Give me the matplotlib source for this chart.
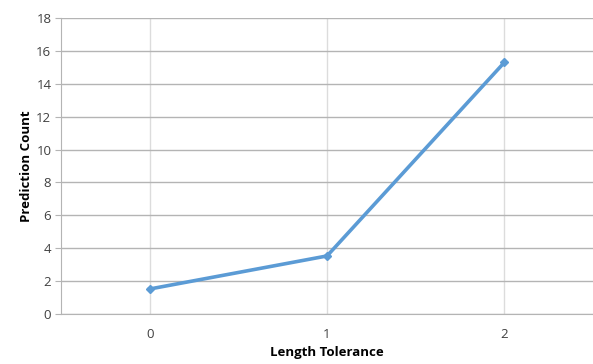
import matplotlib.pyplot as plt

# Prediction count per length tolerance
tolerance = ["0", "1", "2"]
prediction_count = [1.52, 3.53, 15.3]
y_ticks = [0, 2, 4, 6, 8, 10, 12, 14, 16, 18]

plt.rcParams['font.family'] = ['Open Sans', 'DejaVu Sans']

fig = plt.figure(figsize=(5.93, 3.64), dpi=100)
ax = fig.add_axes([0.103, 0.1374, 0.897, 0.8131])

x = list(range(len(tolerance)))
ax.plot(x, prediction_count, color="#5b9bd5", linewidth=2.6,
        marker="D", markersize=4.5, zorder=3)

ax.set_xlim(-0.5, len(tolerance) - 0.5)
ax.set_ylim(0, 18)
ax.set_yticks(y_ticks)
ax.set_xticks(x)
ax.set_xticklabels(tolerance)

# horizontal grid darker than the vertical one
ax.grid(axis="y", color="#b4b4b4", linewidth=1.0)
ax.grid(axis="x", color="#dcdcdc", linewidth=1.0)
ax.set_axisbelow(True)

for side in ["top", "right"]:
    ax.spines[side].set_visible(False)
ax.spines["left"].set_color("#b4b4b4")
ax.spines["bottom"].set_color("#b4b4b4")

ax.tick_params(axis="y", length=4, color="#b4b4b4", labelsize=9.5,
               labelcolor="#404040", pad=3)
ax.tick_params(axis="x", length=0, labelsize=9.5, labelcolor="#404040", pad=10)

ax.set_xlabel("Length Tolerance", fontsize=9.5, fontweight="bold", labelpad=4)
ax.set_ylabel("Prediction Count", fontsize=9.5, fontweight="bold", labelpad=2)

fig.savefig("out.png", dpi=100)
